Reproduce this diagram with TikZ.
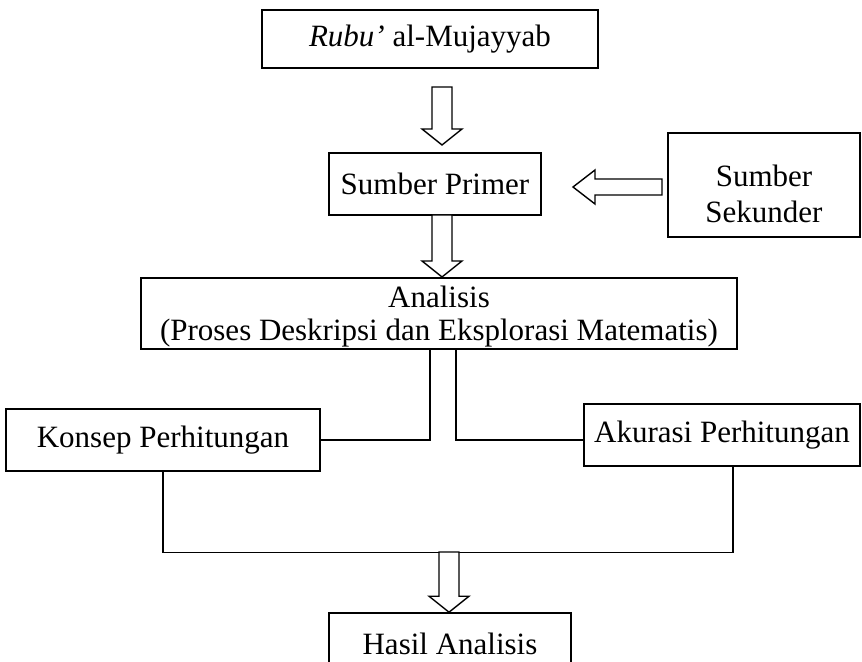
\documentclass[tikz,border=0pt]{standalone}
\usepackage{fontspec}
\setmainfont{Liberation Serif}
\usepackage{tikz}
\usetikzlibrary{positioning,calc}

\tikzset{
    box/.style={draw, line width=0.8pt, inner sep=0pt, align=center, font=\fontsize{15.5}{18}\selectfont},
    link/.style={line width=0.6pt},
    hollow/.style={draw, line width=0.7pt, fill=white, line join=miter}
}
\newcommand{\arrowdown}[2]{\draw[hollow] let \p1=(#1), \p2=(#2) in (\x1-5pt,\y1) -- (\x1-5pt,\y2+8pt) -- (\x1-10pt,\y2+8pt) -- (\x1,\y2) -- (\x1+10pt,\y2+8pt) -- (\x1+5pt,\y2+8pt) -- (\x1+5pt,\y1) -- cycle;}
\newcommand{\arrowleft}[2]{\draw[hollow] let \p1=(#1), \p2=(#2) in (\x1,\y1+4pt) -- (\x2+11pt,\y1+4pt) -- (\x2+11pt,\y1+8.5pt) -- (\x2,\y1) -- (\x2+11pt,\y1-8.5pt) -- (\x2+11pt,\y1-4pt) -- (\x1,\y1-4pt) -- cycle;}

\begin{document}
\begin{tikzpicture}[x=0.5pt, y=-0.5pt]
    \useasboundingbox (0,0) rectangle (862,662);

    \node [box, minimum width=168pt, minimum height=29pt] (rubu) at (430,39) {\textit{Rubu'} al-Mujayyab};
    \node [box, minimum width=106pt, minimum height=31pt] (primer) at (435,184) {Sumber Primer};
    \node [box, minimum width=96pt, minimum height=52pt] (sekunder) at (764,185) {\rule{0pt}{20pt}Sumber\\Sekunder};
    \node [box, minimum width=298pt, minimum height=35.5pt, font=\fontsize{15.5}{16.5}\selectfont] (analisis) at (439,313.5) {\rule{0pt}{14pt}Analisis\\(Proses Deskripsi dan Eksplorasi Matematis)};
    \node [box, minimum width=157pt, minimum height=31pt] (konsep) at (163,440) {Konsep Perhitungan};
    \node [box, minimum width=138pt, minimum height=31pt] (akurasi) at (722,435) {Akurasi Perhitungan};
    \node [box, minimum width=121pt, minimum height=31pt] (hasil) at (450,644) {Hasil Analisis};

    \coordinate (tipA) at (442,145); \coordinate (tipB) at (573,187); \coordinate (tipC) at (442,277); \coordinate (join) at (449,552);
    \arrowdown{442,87}{tipA}
    \arrowleft{662,187}{tipB}
    \arrowdown{442,215}{tipC}

    \draw [link] ($(analisis.south)+(-9,0)$) |- (konsep.east);
    \draw [link] ($(analisis.south)+(17,0)$) |- (akurasi.west |- konsep.east);
    \draw [link] (konsep.south) |- ($(akurasi.south)+(11,86)$) -- ($(akurasi.south)+(11,0)$);
    \arrowdown{join}{hasil.north}
\end{tikzpicture}
\end{document}
